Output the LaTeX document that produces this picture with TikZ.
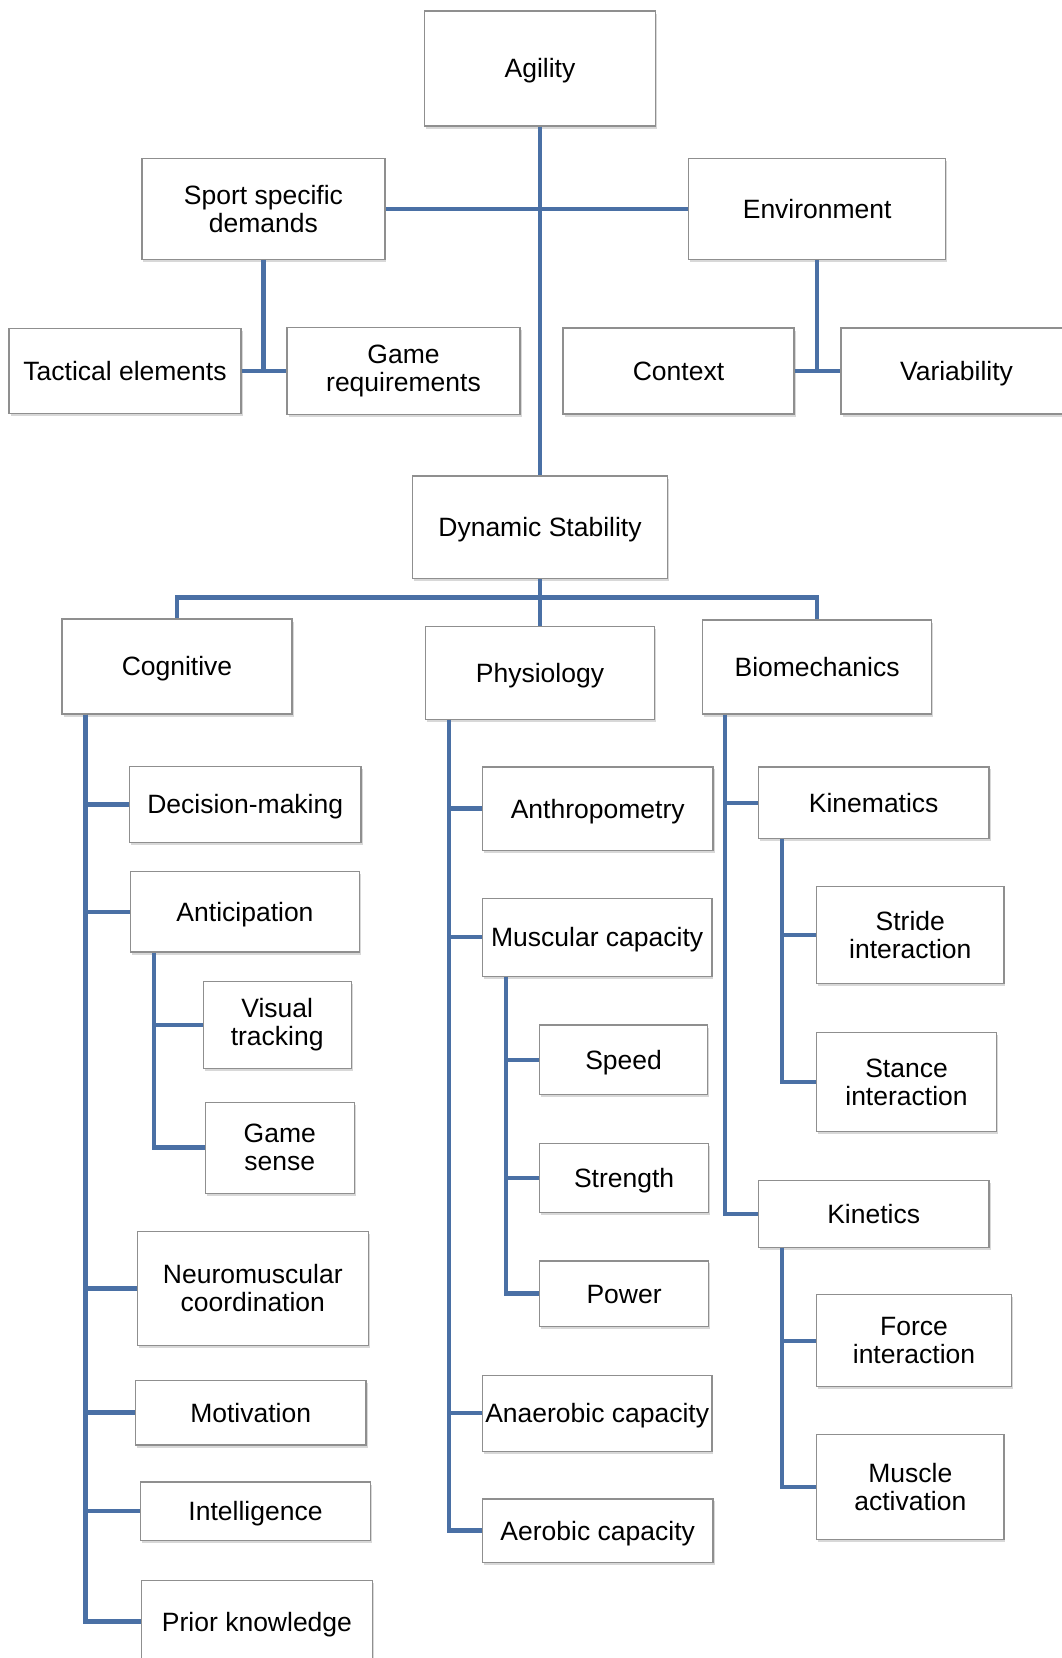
\documentclass[tikz,border=0pt]{standalone}
\usepackage{fontspec}
\setmainfont{Liberation Sans}
\usetikzlibrary{shadows}
\definecolor{connc}{HTML}{4A70A5}
\definecolor{boxline}{HTML}{8F8F8F}
\tikzset{
 box/.style={draw=boxline, line width=1.2pt, fill=white, align=center,
   font=\fontsize{26.5}{28}\selectfont, inner sep=0pt,
   drop shadow={shadow xshift=1.5pt, shadow yshift=-2.5pt, opacity=0.3}},
 link/.style={draw=connc, line width=4.5pt},
}
\newcommand{\capstrut}{\rule[-0.214em]{0pt}{1.144em}}
% multi-line box
\newcommand{\bx}[6]{\node[box, minimum width=#4pt, minimum height=#5pt] (#1) at (#2,#3) {#6};}
% single-line box
\newcommand{\bxs}[6]{\node[box, minimum width=#4pt, minimum height=#5pt] (#1) at (#2,#3) {\capstrut#6};}
\begin{document}
\begin{tikzpicture}[x=1pt,y=-1pt]
\useasboundingbox (0,0) rectangle (1062,1658);
\clip (0,0) rectangle (1062,1658);
\fill[white] (0,0) rectangle (1062,1658);
% top level
\bxs{agi}{540}{68.5}{231}{115}{Agility}
\bx{sport}{263.4}{209}{243}{100.5}{Sport specific\\demands}
\bxs{env}{817.2}{209}{257}{100.5}{Environment}
\bxs{tac}{125}{371}{232}{85}{Tactical elements}
\bx{game}{403.5}{371}{233}{87}{Game\\requirements}
\bxs{ctx}{678.5}{371}{231}{86}{Context}
\bxs{var}{956.5}{371}{231}{86}{Variability}
\bxs{ds}{540}{527.3}{255}{102.6}{Dynamic Stability}
% second level
\bxs{cog}{177}{666.5}{230}{95}{Cognitive}
\bxs{phy}{540}{672.8}{229.6}{93}{Physiology}
\bxs{bio}{817.1}{667}{229.5}{94}{Biomechanics}
% cognitive
\bxs{dm}{245.2}{804.5}{231.7}{75.6}{Decision-making}
\bxs{ant}{245}{911.8}{229.6}{80.4}{Anticipation}
\bx{vis}{277.2}{1025}{148}{86.8}{Visual\\tracking}
\bx{gs}{279.8}{1147.7}{149.2}{91}{Game\\sense}
\bx{neu}{252.8}{1288.4}{230.6}{114.2}{Neuromuscular\\coordination}
\bxs{mot}{250.7}{1412.7}{230.6}{64.6}{Motivation}
\bxs{int}{255.5}{1511.1}{229.5}{58.2}{Intelligence}
\bxs{pk}{257}{1621.7}{230.6}{82}{Prior knowledge}
% physiology
\bxs{anth}{597.7}{808.7}{230.6}{83.6}{Anthropometry}
\bxs{mus}{597.2}{937.2}{229.5}{78.2}{Muscular capacity}
\bxs{spd}{623.6}{1059.9}{168.2}{69.8}{Speed}
\bxs{str}{624.1}{1177.9}{169.2}{68.7}{Strength}
\bxs{pow}{624.1}{1293.7}{169.2}{65.6}{Power}
\bxs{ana}{597.2}{1413.2}{229.5}{76.2}{Anaerobic capacity}
\bxs{aer}{597.7}{1530.7}{230.6}{63.5}{Aerobic capacity}
% biomechanics
\bxs{kin}{873.7}{802.9}{230.6}{71.9}{Kinematics}
\bx{stri}{910.3}{935.1}{187.3}{97.4}{Stride\\interaction}
\bx{stan}{906.5}{1082.1}{179.8}{99.4}{Stance\\interaction}
\bxs{kine}{873.7}{1213.8}{230.6}{66.6}{Kinetics}
\bx{force}{914}{1340.8}{194.7}{92.1}{Force\\interaction}
\bx{mact}{910.3}{1486.8}{187.3}{104.7}{Muscle\\activation}
% connectors top
\draw[link] (agi.south) -- (ds.north);
\draw[link] (sport.east) -- (env.west);
\draw[link] (sport.south) -- (sport.south |- tac.east);
\draw[link] (tac.east) -- (game.west);
\draw[link] (env.south) -- (env.south |- ctx.east);
\draw[link] (ctx.east) -- (var.west);
\coordinate (bus) at (540,597.7);
\draw[link] (ds.south) -- (bus);
\draw[link] (cog.north) |- (bus) -| (bio.north);
\draw[link] (bus) -- (phy.north);
% spines
\foreach \c in {dm,ant,neu,mot,int,pk}
  \draw[link] ([xshift=24pt]cog.south west) |- (\c.west);
\foreach \c in {vis,gs}
  \draw[link] ([xshift=24.3pt]ant.south west) |- (\c.west);
\foreach \c in {anth,mus,ana,aer}
  \draw[link] ([xshift=24.4pt]phy.south west) |- (\c.west);
\foreach \c in {spd,str,pow}
  \draw[link] ([xshift=24.3pt]mus.south west) |- (\c.west);
\foreach \c in {kin,kine}
  \draw[link] ([xshift=23.3pt]bio.south west) |- (\c.west);
\foreach \c in {stri,stan}
  \draw[link] ([xshift=24.4pt]kin.south west) |- (\c.west);
\foreach \c in {force,mact}
  \draw[link] ([xshift=24.4pt]kine.south west) |- (\c.west);
\end{tikzpicture}
\end{document}
